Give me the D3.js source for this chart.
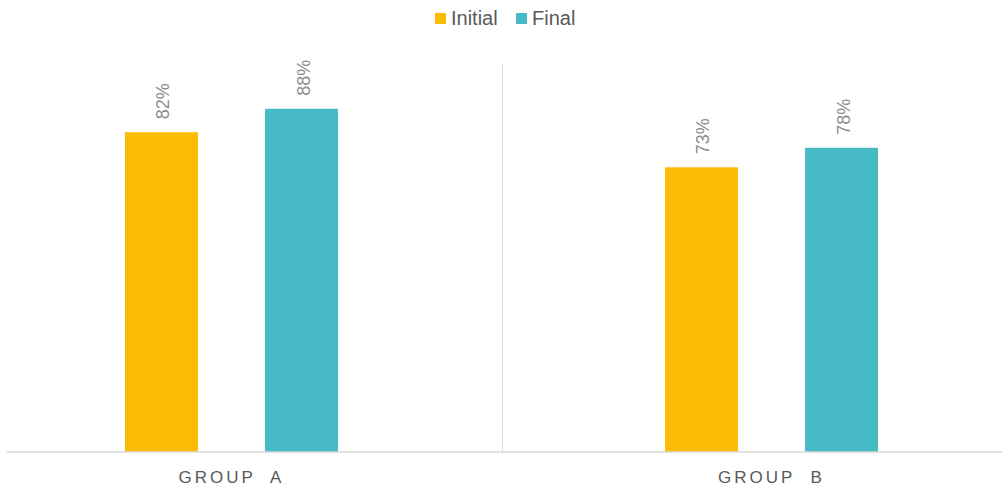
<!DOCTYPE html>
<html>
<head>
<meta charset="utf-8">
<script src="https://cdn.jsdelivr.net/npm/d3@7"></script>
<style>
  html, body { margin: 0; padding: 0; background: #fff; }
  svg { display: block; font-family: Arial, "Liberation Sans", sans-serif; }
</style>
</head>
<body>
<svg id="chart" width="1002" height="488"></svg>
<script>
// Chart data
const groups = ["GROUP  A", "GROUP  B"];
const series = ["Initial", "Final"];
const initialValues = [0.82, 0.73];
const finalValues = [0.88, 0.78];
const colors = ["#FBBC05", "#46BBC5"];

const W = 1002, H = 488;
const baseY = 452, topY = 62;

const svg = d3.select("#chart");

const rows = groups.map((g, i) => ({
  group: g,
  values: [
    { key: series[0], value: initialValues[i] },
    { key: series[1], value: finalValues[i] }
  ]
}));

// Scales
const x0 = d3.scaleBand().domain(groups).range([-38.5, 1041.5]).padding(0);
const x1 = d3.scaleBand().domain(series).range([0, 213]).paddingInner(0.479).paddingOuter(0);
const y = d3.scaleLinear().domain([0, 1]).range([baseY, topY]);
const color = d3.scaleOrdinal().domain(series).range(colors);

// Divider between groups
svg.append("line")
  .attr("x1", 502.5).attr("x2", 502.5)
  .attr("y1", 64).attr("y2", baseY)
  .attr("stroke", "#d9d9d9").attr("stroke-width", 1);

// Bars
const g = svg.selectAll("g.grp").data(rows).join("g")
  .attr("class", "grp")
  .attr("transform", d => `translate(${x0(d.group) + x0.bandwidth() / 2 - 106.5},0)`);

g.selectAll("rect").data(d => d.values).join("rect")
  .attr("x", d => x1(d.key))
  .attr("y", d => y(d.value))
  .attr("width", x1.bandwidth())
  .attr("height", d => baseY - y(d.value))
  .attr("fill", d => color(d.key));

// Value labels, rotated
g.selectAll("text.val").data(d => d.values).join("text")
  .attr("class", "val")
  .attr("transform", d => `translate(${x1(d.key) + x1.bandwidth() / 2 + 8},${y(d.value) - 13}) rotate(-90)`)
  .attr("text-anchor", "start")
  .attr("font-size", 18)
  .attr("fill", "#8c8c8c")
  .text(d => d3.format(".0%")(d.value));

// Category axis
const xAxis = svg.append("g").attr("transform", `translate(0,${baseY})`)
  .call(d3.axisBottom(x0).tickSize(0).tickPadding(0));
xAxis.select(".domain").remove();
xAxis.append("line")
  .attr("x1", 7).attr("x2", W).attr("y1", 0).attr("y2", 0)
  .attr("stroke", "#d9d9d9").attr("stroke-width", 1.5);
xAxis.selectAll(".tick text")
  .attr("y", 31)
  .attr("dy", 0)
  .attr("x", 0)
  .attr("font-family", "Arial, 'Liberation Sans', sans-serif")
  .attr("font-size", 17)
  .attr("fill", "#595959")
  .style("letter-spacing", "3px")
  .style("white-space", "pre");

// Legend
const legendX = [435, 516];
const legend = svg.append("g").selectAll("g").data(series).join("g")
  .attr("transform", (d, i) => `translate(${legendX[i]},13)`);
legend.append("rect")
  .attr("width", 11).attr("height", 11)
  .attr("fill", d => color(d));
legend.append("text")
  .attr("x", 16).attr("y", 11.5)
  .attr("font-size", 20)
  .attr("fill", "#595959")
  .text(d => d);
</script>
</body>
</html>
